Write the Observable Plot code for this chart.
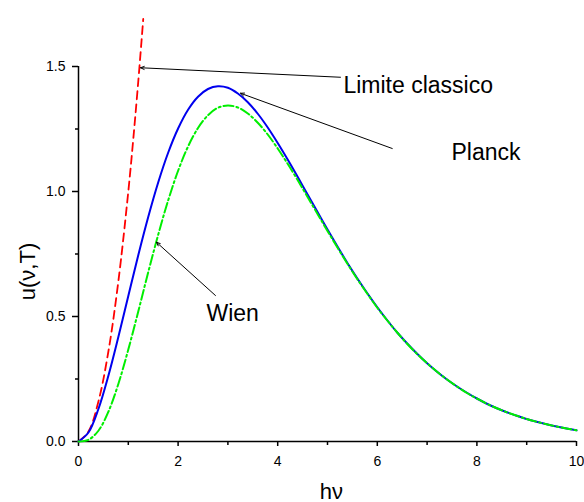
<!DOCTYPE html>
<html>
<head>
<meta charset="utf-8">
<script src="https://cdn.jsdelivr.net/npm/d3@7"></script>
<script src="https://cdn.jsdelivr.net/npm/@observablehq/plot@0.6"></script>
<style>
  html, body { margin: 0; padding: 0; background: #fff; }
  #chart svg { font-family: "Liberation Sans", Arial, sans-serif; }
</style>
</head>
<body>
<div id="chart"></div>
<script>
// x = hν samples
const xs = [0,0.2,0.4,0.6,0.8,1.0,1.2,1.4,1.6,1.8,2.0,2.2,2.4,2.6,2.8,3.0,3.2,3.4,3.6,3.8,4.0,4.2,4.4,4.6,4.8,5.0,5.2,5.4,5.6,5.8,6.0,6.2,6.4,6.6,6.8,7.0,7.2,7.4,7.6,7.8,8.0,8.2,8.4,8.6,8.8,9.0,9.2,9.4,9.6,9.8,10];
const planck = [0,0.036,0.130,0.263,0.418,0.582,0.745,0.898,1.036,1.155,1.252,1.327,1.379,1.410,1.421,1.415,1.392,1.357,1.311,1.256,1.194,1.128,1.059,0.988,0.918,0.848,0.780,0.714,0.652,0.593,0.537,0.485,0.436,0.392,0.351,0.313,0.279,0.248,0.220,0.195,0.172,0.151,0.133,0.117,0.103,0.090,0.079,0.069,0.060,0.052,0.045];
const wien = [0,0.007,0.043,0.119,0.230,0.368,0.520,0.677,0.827,0.964,1.083,1.180,1.254,1.305,1.335,1.344,1.336,1.312,1.275,1.228,1.172,1.111,1.046,0.978,0.910,0.842,0.776,0.711,0.649,0.591,0.535,0.484,0.436,0.391,0.350,0.313,0.279,0.248,0.220,0.194,0.172,0.151,0.133,0.117,0.103,0.090,0.079,0.069,0.060,0.052,0.045];
const xsClassic = [0,0.2,0.4,0.6,0.8,1.0,1.1,1.2,1.3];
const classic = [0,0.04,0.16,0.36,0.64,1.0,1.21,1.44,1.69];

const xTicks = [0,2,4,6,8,10];
const xMinor = [1,3,5,7,9];
const yTicks = [0,0.5,1.0,1.5];
const yMinor = [0.25,0.75,1.25];

// annotations (data units)
const labels = ["Limite classico", "Planck", "Wien"];
const labelX = [5.32, 7.49, 2.57];
const labelY = [1.424, 1.156, 0.512];
const arrowFromX = [5.26, 6.30, 2.75];
const arrowFromY = [1.457, 1.172, 0.584];
const arrowToX = [1.245, 3.253, 1.566];
const arrowToY = [1.495, 1.393, 0.797];

const xLabel = "hν";
const yLabel = "u(ν,T)";

const planckData = xs.map((x, i) => ({x, y: planck[i]}));
const wienData = xs.map((x, i) => ({x, y: wien[i]}));
const classicData = xsClassic.map((x, i) => ({x, y: classic[i]}));
const labelData = labels.map((t, i) => ({t, x: labelX[i], y: labelY[i]}));
const arrowData = labels.map((t, i) => ({x1: arrowFromX[i], y1: arrowFromY[i], x2: arrowToX[i], y2: arrowToY[i]}));

const chart = Plot.plot({
  width: 584,
  height: 502,
  marginLeft: 78,
  marginRight: 8,
  marginTop: 66,
  marginBottom: 61,
  style: {fontFamily: "'Liberation Sans', Arial, sans-serif", fontSize: "14px", background: "#fff", overflow: "visible"},
  x: {domain: [0, 10]},
  y: {domain: [0, 1.5]},
  marks: [
    Plot.axisX({ticks: xTicks, tickSize: 5, tickPadding: 10, strokeWidth: 1.5, fontSize: 14, label: null, tickFormat: d3.format("d")}),
    Plot.axisX({ticks: xMinor, tickSize: 4, strokeWidth: 1.5, tickFormat: () => "", label: null}),
    Plot.axisY({ticks: yTicks, tickSize: 6, tickPadding: 7, strokeWidth: 1.5, fontSize: 14, label: null, tickFormat: d3.format(".1f")}),
    Plot.axisY({ticks: yMinor, tickSize: 3, strokeWidth: 1.5, tickFormat: () => "", label: null}),
    Plot.ruleY([0], {x1: 0, x2: 10, stroke: "black", strokeWidth: 1.5}),
    Plot.ruleX([0], {y1: 0, y2: 1.5, stroke: "black", strokeWidth: 1.5}),
    Plot.line(classicData, {x: "x", y: "y", stroke: "#ff0000", strokeWidth: 1.8, strokeDasharray: "8,5", curve: "catmull-rom"}),
    Plot.line(planckData, {x: "x", y: "y", stroke: "#0000ee", strokeWidth: 2, curve: "catmull-rom"}),
    Plot.line(wienData, {x: "x", y: "y", stroke: "#00ee00", strokeWidth: 2, strokeDasharray: "10,3,2,3", curve: "catmull-rom"}),
    Plot.arrow(arrowData, {x1: "x1", y1: "y1", x2: "x2", y2: "y2", stroke: "black", strokeWidth: 1, headLength: 6, headAngle: 45}),
    Plot.text(labelData, {x: "x", y: "y", text: "t", textAnchor: "start", lineAnchor: "middle", fontSize: 23, fill: "black"}),
    Plot.text([xLabel], {x: 5.08, y: -0.2, text: d => d, textAnchor: "middle", lineAnchor: "middle", fontSize: 22, fill: "black"}),
    Plot.text([yLabel], {x: -1.02, y: 0.68, text: d => d, rotate: -90, textAnchor: "middle", lineAnchor: "middle", fontSize: 22, fill: "black"})
  ]
});
document.getElementById("chart").appendChild(chart);
</script>
</body>
</html>
